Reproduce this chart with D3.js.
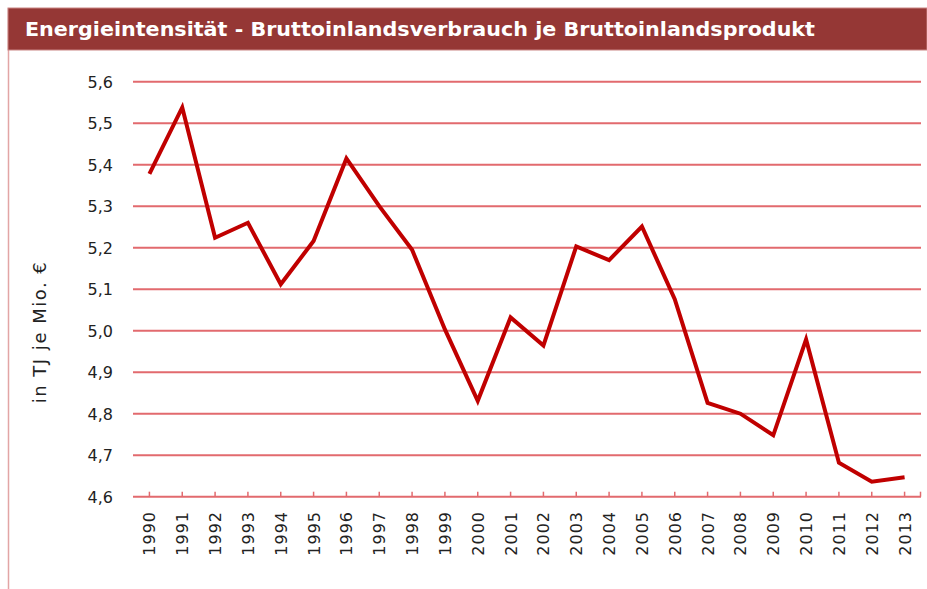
<!DOCTYPE html>
<html>
<head>
<meta charset="utf-8">
<script src="https://cdn.jsdelivr.net/npm/d3@7"></script>
<style>
  body { margin: 0; background: #fff; }
  svg { display: block; }
</style>
</head>
<body>
<div id="viz"></div>
<script>
var years = ["1990","1991","1992","1993","1994","1995","1996","1997","1998","1999","2000","2001",
             "2002","2003","2004","2005","2006","2007","2008","2009","2010","2011","2012","2013"];
var intensity = [5.378, 5.538, 5.224, 5.26, 5.112, 5.216, 5.415, 5.30, 5.195, 5.003, 4.831, 5.032,
                 4.964, 5.203, 5.17, 5.251, 5.076, 4.826, 4.80, 4.748, 4.979, 4.682, 4.636, 4.647];
var yTicks = [4.6, 4.7, 4.8, 4.9, 5.0, 5.1, 5.2, 5.3, 5.4, 5.5, 5.6];
var title = "Energieintensität - Bruttoinlandsverbrauch je Bruttoinlandsprodukt";
var yTitle = "in TJ je Mio. €";

var canw = 927, canh = 589;
var padL = 133, padR = 921, plotTop = 81.7, plotBottom = 496.7;

var s = d3.select("#viz")
    .append("svg")
    .attr("width", canw)
    .attr("height", canh);

// frame
s.append("line")
    .attr("x1", 8.5).attr("x2", 8.5)
    .attr("y1", 8).attr("y2", canh)
    .style("stroke", "#e2a5a5").style("stroke-width", 1.5);

// title bar
s.append("rect")
    .attr("x", 8).attr("y", 8)
    .attr("width", canw - 8).attr("height", 42)
    .style("fill", "#953735")
    .style("stroke", "#c98584").style("stroke-width", 1);
s.append("text")
    .attr("x", 25).attr("y", 36)
    .attr("textLength", 790).attr("lengthAdjust", "spacingAndGlyphs")
    .style("font-family", "DejaVu Sans Condensed, DejaVu Sans, sans-serif")
    .style("font-weight", "bold").style("font-size", "19px")
    .style("fill", "#fff")
    .text(title);

var x = d3.scaleBand().domain(years).range([padL, padR]);
var y = d3.scaleLinear().domain([4.6, 5.6]).range([plotBottom, plotTop]);

// grid lines
s.append("g").selectAll("line")
    .data(yTicks.slice(1))
    .join("line")
    .attr("x1", padL).attr("x2", padR)
    .attr("y1", function(d){ return y(d); })
    .attr("y2", function(d){ return y(d); })
    .style("stroke", "#e26a6e").style("stroke-width", 2);

// y labels
s.append("g").selectAll("text")
    .data(yTicks)
    .join("text")
    .attr("x", 113)
    .attr("y", function(d){ return y(d) + 6; })
    .attr("text-anchor", "end")
    .style("font-family", "DejaVu Sans, Verdana, sans-serif")
    .style("font-size", "16px")
    .style("fill", "#222")
    .text(function(d){ return d3.format(".1f")(d).replace(".", ","); });

// axis title
s.append("text")
    .attr("transform", "translate(46,332) rotate(-90)")
    .attr("text-anchor", "middle")
    .style("font-family", "DejaVu Sans, Verdana, sans-serif")
    .style("font-size", "18px")
    .style("letter-spacing", "1.5px")
    .style("fill", "#222")
    .text(yTitle);

// x axis line and ticks
s.append("line")
    .attr("x1", padL).attr("x2", padR)
    .attr("y1", plotBottom).attr("y2", plotBottom)
    .style("stroke", "#e26a6e").style("stroke-width", 2);
var tickPos = years.map(function(d){ return x(d) + x.bandwidth() / 2; }).concat([padR - 0.5]);
s.append("g").selectAll("line")
    .data(tickPos)
    .join("line")
    .attr("x1", function(d){ return d; }).attr("x2", function(d){ return d; })
    .attr("y1", plotBottom - 5).attr("y2", plotBottom)
    .style("stroke", "#e26a6e").style("stroke-width", 1.5);

// x labels
s.append("g").selectAll("text")
    .data(years)
    .join("text")
    .attr("transform", function(d){
        return "translate(" + (x(d) + x.bandwidth() / 2 + 6) + ",511) rotate(-90)";
    })
    .attr("text-anchor", "end")
    .style("font-family", "DejaVu Sans, Verdana, sans-serif")
    .style("font-size", "16px")
    .style("letter-spacing", "1px")
    .style("fill", "#222")
    .text(function(d){ return d; });

// data line
var line = d3.line()
    .x(function(d, i){ return x(years[i]) + x.bandwidth() / 2; })
    .y(function(d){ return y(d); });
s.append("path")
    .datum(intensity)
    .attr("d", line)
    .style("fill", "none")
    .style("stroke", "#c00000")
    .style("stroke-width", 4)
    .style("stroke-linejoin", "miter");
</script>
</body>
</html>
